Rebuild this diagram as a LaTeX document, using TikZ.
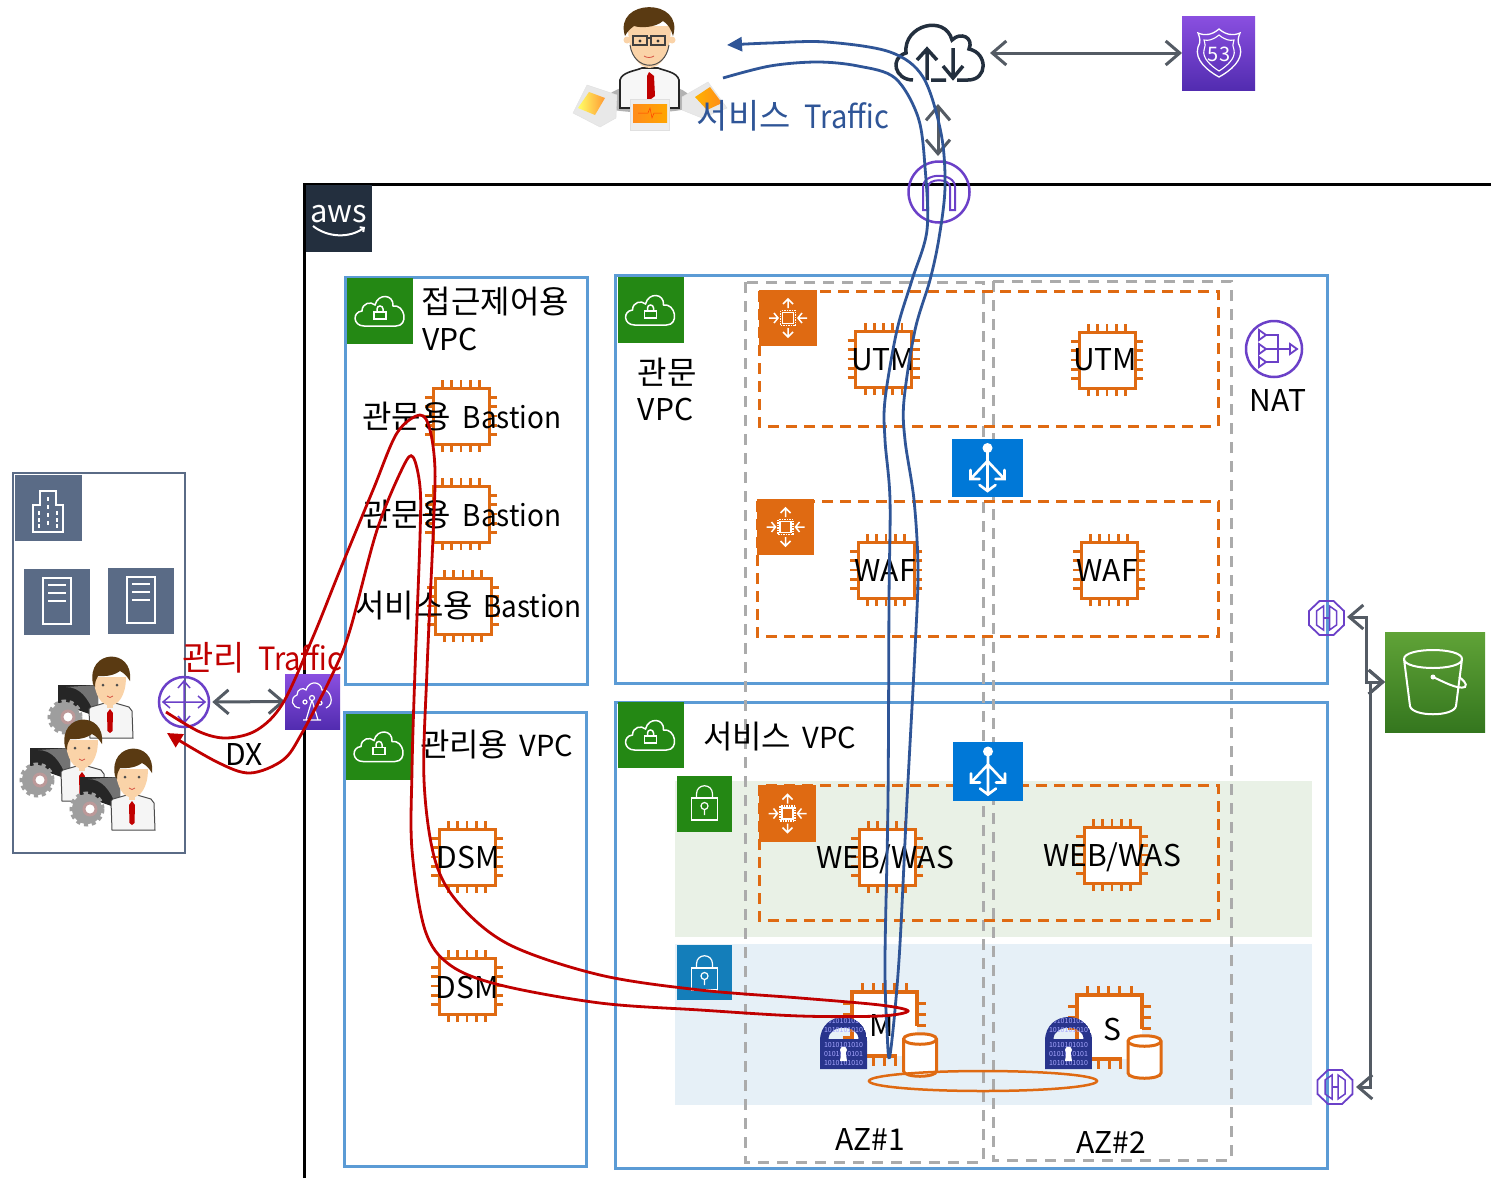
\documentclass[tikz,border=0pt]{standalone}
\usepackage{fontspec}
\setmainfont{Noto Sans CJK KR}
\usetikzlibrary{arrows.meta}
\definecolor{awsor}{HTML}{DF6A12}
\definecolor{pur}{HTML}{6B40C8}
\definecolor{vpcb}{HTML}{5B9BD5}
\definecolor{grn}{HTML}{248814}
\definecolor{gar}{HTML}{545B64}
\definecolor{slateb}{HTML}{5A6B86}
\definecolor{rd}{HTML}{C00000}
\definecolor{bl}{HTML}{2F5597}
\definecolor{navy}{HTML}{232F3E}
\definecolor{lockb}{HTML}{28348C}
\definecolor{hair}{HTML}{5A3A12}
\definecolor{skin}{HTML}{FAD3A8}
\definecolor{subg}{HTML}{E9F1E6}
\definecolor{subb}{HTML}{E6F0F7}
\definecolor{lockblue}{HTML}{147EBA}
\definecolor{elbblue}{HTML}{0078D7}
\definecolor{purhi}{HTML}{8A4FE0}
\definecolor{purlo}{HTML}{522CB0}
\definecolor{s3hi}{HTML}{60A337}
\definecolor{s3lo}{HTML}{34761E}
\newcommand{\kf}{\fontsize{32}{36}\selectfont}
\newcommand{\lf}{\fontsize{30}{36}\selectfont}
\newcommand{\vf}{\fontsize{29}{36}\selectfont}
\newcommand{\nar}[1]{\scalebox{.93}[1]{#1}}
\tikzset{
  lbl/.style={font=\fontsize{30}{36}\selectfont,inner sep=0pt,text=black},
  vpcbox/.style={draw=vpcb,line width=3pt},
  squareicon/.style={inner sep=0pt,outer sep=0pt,draw=none},
  gline/.style={draw=white,line width=1.5pt,fill=none},
  azbox/.style={draw=black!33,line width=3pt,dash pattern=on 11pt off 8pt},
  asgbox/.style={draw=awsor,line width=3pt,dash pattern=on 11pt off 7pt},
  gray arrow/.style={draw=gar,line width=3pt,{Straight Barb[length=14pt,width=24pt,line width=3pt]}-{Straight Barb[length=14pt,width=24pt,line width=3pt]}},
  chip/.pic={
    \foreach \d in {-18.4,-9.2,0,9.2,18.4}{
      \draw[awsor,line width=2.8pt] (\d,-36)--(\d,-28) (\d,36)--(\d,28) (-36,\d)--(-28,\d) (36,\d)--(28,\d);}
    \draw[awsor,line width=3pt,fill=white] (-28,-28) rectangle (28,28);
  },
  vpcicon/.pic={
    \draw[gline] (-16,15) .. controls (-27,15) and (-28,1) .. (-18,0) .. controls (-18,-8) and (-9,-10) .. (-5,-6) .. controls (-2,-18) and (14,-17) .. (13,-5) .. controls (25,-7) and (29,15) .. (16,15) -- cycle;
    \draw[gline] (-6,1) rectangle (6,8);
    \draw[gline] (-3,1) -- (-3,-2) .. controls (-3,-6) and (3,-6) .. (3,-2) -- (3,1);
  },
  lockicon/.pic={
    \draw[gline,line width=1.2pt] (-13,-8) rectangle (13,14);
    \draw[gline,line width=1.2pt] (-8,-8) -- (-8,-12) .. controls (-8,-23) and (8,-23) .. (8,-12) -- (8,-8);
    \draw[gline,line width=1.2pt] (0,0) circle (3.5) (0,3.5)--(0,9);
  },
  asgicon/.pic={
    \draw[white,line width=1.5pt,densely dotted] (-7.5,-7.5) rectangle (7.5,7.5);
    \draw[white,line width=1.2pt] (-5.5,-5.5) rectangle (5.5,5.5);
    \draw[white,line width=1.5pt] (-19,0)--(-10,0) (-14,-5)--(-10,0)--(-14,5)
      (19,0)--(10,0) (14,-5)--(10,0)--(14,5)
      (0,-10)--(0,-19) (-5,-14)--(0,-19)--(5,-14)
      (0,10)--(0,19) (-5,14)--(0,19)--(5,14);
  },
  elbicon/.pic={
    \fill[white] (0,-20) circle (5);
    \draw[white,line width=2.6pt,line cap=round] (0,-18)--(0,22) (0,-7)--(-16,10) (0,-7)--(16,10)
      (-8,17)--(0,23)--(8,17) (-17,2)--(-17,11)--(-8,11) (17,2)--(17,11)--(8,11);
  },
  servericon/.pic={
    \draw[white,line width=1.5pt] (-14,-23) rectangle (14,23);
    \draw[white,line width=1.3pt] (-9,-16)--(9,-16) (-9,-8)--(9,-8) (-9,0)--(9,0);
  },
  buildicon/.pic={
    \draw[white,line width=1.5pt] (-15,24)--(-15,-3)--(-8,-3)--(-8,-17)--(8,-17)--(8,-3)--(15,-3)--(15,24)--cycle;
    \foreach \yy in {-11,-3,5,13}{\draw[white,line width=1.5pt] (0,\yy)--(0,\yy+4);}
    \foreach \xx in {-9,9}{\foreach \yy in {3,10,16}{\draw[white,line width=1.5pt] (\xx,\yy)--(\xx,\yy+4);}}
  },
  dblock/.pic={
    \begin{scope}
      \path[clip] (-23.5,52)--(-23.5,24) .. controls (-23.5,-8) and (23.5,-8) .. (23.5,24) -- (23.5,52) -- cycle;
      \fill[lockb,even odd rule] (-23.5,52)--(-23.5,24) .. controls (-23.5,-8) and (23.5,-8) .. (23.5,24) -- (23.5,52) -- cycle
        (-15,22) .. controls (-15,7) and (15,7) .. (15,22) -- cycle;
      \foreach \yy/\tt in {4/01010101,13/1010101010,28/1010101010,37/0101010101,46/1010101010}{
        \node[inner sep=0pt,text=blue!35!white,font=\fontsize{7}{8}\selectfont] at (0,\yy) {\tt};}
    \end{scope}
    \fill[white] (0,33) circle (3.5) (-2,34)--(2,34)--(3.5,44)--(-3.5,44)--cycle;
  },
  cyl/.pic={
    \draw[awsor,line width=3pt,fill=white] (-16.5,-16) -- (-16.5,16) .. controls (-16.5,23) and (16.5,23) .. (16.5,16) -- (16.5,-16) .. controls (16.5,-23) and (-16.5,-23) .. (-16.5,-16) -- cycle;
    \draw[awsor,line width=3pt] (-16.5,-16) .. controls (-16.5,-9) and (16.5,-9) .. (16.5,-16);
  },
  epoct/.pic={
    \draw[pur,line width=1.8pt] (-7,-17)--(7,-17)--(17.5,-7)--(17.5,7)--(7,17)--(-7,17)--(-17.5,7)--(-17.5,-7)--cycle;
    \draw[pur,line width=1.5pt] (-3,-12)--(-3,12)--(-10,7)--(-10,-7)--cycle (3,-12)--(3,12)--(10,7)--(10,-7)--cycle;
    \draw[pur,line width=1.5pt] (-3,0)--(3,0);
  },
  admin/.pic={
    \fill[black!85] (-52,12) -- (-12,12) -- (-12,44) -- (-52,30) -- cycle;
    \fill[black!55] (-44,14) .. controls (-30,14) and (-22,25) .. (-16,40) -- (-12,44)--(-12,12)--cycle;
    \draw[black!38,line width=5pt,dash pattern=on 4pt off 3.5pt] (-45,44) circle (15);
    \fill[black!38] (-45,44) circle (15);
    \draw[rd!45!black!40,line width=3pt,fill=white] (-42,44) circle (6);
    \draw[black!70,line width=1pt,fill=black!4] (-21,36) -- (-19,34) -- (-5,30) -- (5,30) -- (19,34) -- (22,38) -- (23,65) -- (-20,65) -- cycle;
    \fill[rd] (0,36)--(3,40)--(2.5,58)--(0,60)--(-2.5,58)--(-3,40)--cycle;
    \fill[skin] (-16,4) .. controls (-16,42) and (16,42) .. (16,4) -- cycle;
    \fill[skin] (-3,25) rectangle (3,35);
    \fill[hair] (-17,11) .. controls (-24,-24) and (24,-26) .. (20,8) .. controls (17,3) and (14,0) .. (10,-2) .. controls (2,4) and (-8,3) .. (-12,3) .. controls (-14,6) and (-15,9) .. (-15,14) -- cycle;
    \fill[black!70] (-7,12) circle (1.5) (7,12) circle (1.5);
    \draw[rd!60!skin,line width=.7pt] (-3,23) .. controls (-1,25) and (1,25) .. (3,23);
  },
}
\begin{document}
\begin{tikzpicture}[x=1pt,y=-1pt]
\useasboundingbox (0,0) rectangle (1491,1178);
\fill[white] (0,0) rectangle (1491,1178);

% AWS frame
\draw[black,line width=3pt] (304,1178) -- (304,184) -- (1491,184);
\node[squareicon,fill=navy,minimum width=66pt,minimum height=67pt] (awslogo) at (339,218.5) {};
\node[inner sep=0pt,text=white,font=\fontsize{31}{32}\selectfont,anchor=base] (awstxt) at (338.5,222) {aws};
\draw[white,line width=2pt,-{Straight Barb[length=3pt,width=6pt]}] (313,226) .. controls (328,238) and (350,238) .. (365,227);

% VPC boxes
\draw[vpcbox] (345,277) rectangle (587,684);
\draw[vpcbox] (344,712) rectangle (586,1166);
\draw[vpcbox] (615,275) rectangle (1327,683);
\draw[vpcbox] (615,702) rectangle (1327,1168);
\node[squareicon,fill=grn,minimum size=66pt] (v1) at (380,311) {};
\pic at (380,311) {vpcicon};
\node[squareicon,fill=grn,minimum size=66pt] (v2) at (379,746.5) {};
\pic at (379,746.5) {vpcicon};
\node[squareicon,fill=grn,minimum size=66pt] (v3) at (650.5,310) {};
\pic at (650.5,310) {vpcicon};
\node[squareicon,fill=grn,minimum size=66pt] (v4) at (650.5,735) {};
\pic at (650.5,735) {vpcicon};

% subnets
\fill[subg] (675,781) rectangle (1312,937);
\fill[subb] (675,944) rectangle (1312,1105);
\node[squareicon,fill=grn,minimum width=55pt,minimum height=56pt] (s1) at (704.5,804) {};
\pic at (704.5,806) {lockicon};
\node[squareicon,fill=lockblue,minimum width=55pt,minimum height=55pt] (s2) at (704.5,972.5) {};
\pic at (704.5,976) {lockicon};

% AZ boxes
\draw[azbox] (745,282) rectangle (983,1162);
\draw[azbox] (993,281) rectangle (1231,1160);

% ASG
\draw[asgbox] (759,291) rectangle (1218,426);
\draw[asgbox] (757,501) rectangle (1218,636);
\draw[asgbox] (759,785) rectangle (1218,920);
\node[squareicon,fill=awsor,minimum width=58pt,minimum height=56pt] (a1) at (788,318) {};
\pic at (788,318) {asgicon};
\node[squareicon,fill=awsor,minimum width=57pt,minimum height=56pt] (a2) at (785.5,527) {};
\pic at (785.5,527) {asgicon};
\node[squareicon,fill=awsor,minimum width=57pt,minimum height=57pt] (a3) at (787.5,813.5) {};
\pic at (787.5,813.5) {asgicon};

% ELB
\node[squareicon,fill=elbblue,minimum width=71pt,minimum height=58pt] (e1) at (987.5,468) {};
\pic at (987.5,468) {elbicon};
\node[squareicon,fill=elbblue,minimum width=70pt,minimum height=59pt] (e2) at (988,771.5) {};
\pic at (988,771.5) {elbicon};

% chips
\pic at (883.5,359) {chip};
\pic at (1107,360) {chip};
\pic at (886,570) {chip};
\pic at (1109,570) {chip};
\pic at (887,857) {chip};
\pic at (1112,855) {chip};
\pic at (461,416) {chip};
\pic at (461,514) {chip};
\pic at (463,606) {chip};
\pic at (467,857) {chip};
\pic at (467,986) {chip};

% RDS M
\foreach \ox/\oy in {0/0,225/3}{
 \begin{scope}[shift={(\ox,\oy)}]
  \fill[white] (852,992) rectangle (917,1056);
  \foreach \d in {862,873,883,894,906}{\draw[awsor,line width=3pt] (\d,983)--(\d,992);}
  \foreach \d in {1003,1014,1025}{\draw[awsor,line width=3pt] (917,\d)--(926,\d);}
  \foreach \d in {1003,1014,1025,1037}{\draw[awsor,line width=3pt] (843,\d)--(852,\d);}
  \foreach \d in {873,884,895}{\draw[awsor,line width=3pt] (\d,1056)--(\d,1066);}
  \draw[awsor,line width=3.2pt] (897,1056) -- (852,1056) -- (852,992) -- (917,992) -- (917,1026);
 \end{scope}}
\pic at (843.5,1017) {dblock};
\pic at (1068.5,1017) {dblock};
\pic at (920,1055) {cyl};
\pic at (1144.5,1057) {cyl};
\draw[awsor,line width=2.5pt] (983,1081) ellipse (114 and 10);

% on-prem
\draw[draw=slateb,line width=2.5pt] (13,473) rectangle (185,853);
\node[squareicon,fill=slateb,minimum width=67pt,minimum height=66pt] (bld) at (48.5,508) {};
\pic at (48,508) {buildicon};
\node[squareicon,fill=slateb,minimum size=66pt] (sv1) at (57,602) {};
\pic at (57,601) {servericon};
\node[squareicon,fill=slateb,minimum size=66pt] (sv2) at (141,600.5) {};
\pic at (141,600) {servericon};
\pic at (110,673) {admin};
\pic at (82,736) {admin};
\pic at (132,765) {admin};

% router
\node[circle,draw=pur,line width=2.5pt,minimum size=50pt,inner sep=0pt] (rt) at (184,702) {};
\draw[pur,line width=1.5pt] (163,702)--(205,702) (184,681)--(184,723)
  (170,696)--(163,702)--(170,708) (198,696)--(205,702)--(198,708)
  (178,688)--(184,681)--(190,688) (178,716)--(184,723)--(190,716);

% DX
\node[squareicon,top color=purhi,bottom color=purlo,minimum width=55pt,minimum height=55pt] (dx) at (312.5,701.5) {};
\draw[gline,line width=1.2pt] (300,708) .. controls (292,708) and (289,698) .. (297,695) .. controls (297,689) and (303,687) .. (306,690) .. controls (309,680) and (321,681) .. (322,690) .. controls (330,688) and (336,704) .. (326,708);
\draw[gline,line width=1.2pt] (312,700)--(306,720) (312,700)--(318,720) (303,720)--(321,720) (312,698) circle (2.5) (305,702) circle (2) (320,703) circle (2);

% top group
\node[inner sep=0pt] (cloudc) at (940,53) {};
\draw[navy,line width=3.5pt] (913,80) .. controls (895,80) and (889,58) .. (906,53) .. controls (903,25) and (945,14) .. (952,40) .. controls (961,31) and (974,38) .. (969,49) .. controls (988,53) and (988,80) .. (968,80) -- (957,80) (931,80)--(946,80);
\draw[navy,line width=3.5pt] (927,80)--(927,49) (917,60)--(927,49)--(937,60) (953,48)--(953,78) (943,66)--(953,78)--(963,66);
\coordinate (cloudr) at (990,53);
\node[squareicon,top color=purhi,bottom color=purlo,minimum width=73pt,minimum height=74pt] (r53) at (1218.5,53) {};
\draw[gline,line width=1.3pt] (1219,29) .. controls (1212,35) and (1205,36) .. (1198,33) .. controls (1200,38) and (1201,42) .. (1198,47) .. controls (1194,60) and (1208,71) .. (1219,77) .. controls (1230,71) and (1244,60) .. (1240,47) .. controls (1237,42) and (1238,38) .. (1240,33) .. controls (1233,36) and (1226,35) .. (1219,29) -- cycle;
\draw[gline,line width=1.1pt] (1219,35) .. controls (1213,40) and (1208,41) .. (1204,40) .. controls (1205,44) and (1206,47) .. (1204,50) .. controls (1202,58) and (1211,66) .. (1219,71) .. controls (1227,66) and (1236,58) .. (1234,50) .. controls (1232,47) and (1233,44) .. (1234,40) .. controls (1230,41) and (1225,40) .. (1219,35) -- cycle;
\node[inner sep=0pt,text=white,font=\fontsize{20}{22}\selectfont] (n53) at (1219,54) {53};
\node[circle,draw=pur,line width=2.5pt,minimum size=61pt,inner sep=0pt] (igw) at (939,192) {};
\draw[pur,line width=2pt] (923,210)--(923,187) .. controls (923,172) and (955,172) .. (955,187) -- (955,210) -- (950,210) -- (950,187) .. controls (950,178) and (928,178) .. (928,187) -- (928,210) -- cycle;
\coordinate (vtop) at (938,104);
\coordinate (vbot) at (938,156);

% NAT
\node[circle,draw=pur,line width=2.5pt,minimum size=56pt,inner sep=0pt] (nat) at (1274,349) {};
\draw[pur,line width=2pt] (1265,349)--(1290,349) (1265,335)--(1278,335)--(1278,362)--(1265,362);
\draw[pur,line width=1.8pt] (1259,330)--(1266,335)--(1259,340)--cycle (1259,344)--(1266,349)--(1259,354)--cycle (1259,357)--(1266,362)--(1259,367)--cycle (1290,344)--(1297,349)--(1290,354)--cycle;

% S3, endpoints
\node[squareicon,top color=s3hi,bottom color=s3lo,minimum size=100pt] (s3) at (1435,682) {};
\draw[gline,line width=2pt] (1404,659) .. controls (1404,647) and (1462,647) .. (1462,659) .. controls (1462,671) and (1404,671) .. (1404,659) -- (1410,706) .. controls (1412,717) and (1454,717) .. (1456,706) -- (1462,659);
\fill[white] (1433,677) circle (2.5);
\draw[gline,line width=2pt] (1433,677) .. controls (1442,681) and (1458,690) .. (1465,687) .. controls (1468,684) and (1462,679) .. (1459,677);
\pic at (1326.5,618) {epoct};
\pic at (1335,1087) {epoct};
\coordinate (ep1) at (1347,617);
\coordinate (ep2) at (1356,1087);
\coordinate (s3in) at (1385,682);
\coordinate (s3a) at (1366,617);
\coordinate (s3b) at (1366,682);
\coordinate (s3c) at (1370,1087);
\coordinate (s3d) at (1370,682);

% Top user
\fill[black!30] (605,98) .. controls (620,80) and (675,78) .. (690,96) -- (690,108) .. controls (670,114) and (625,114) .. (605,108) -- cycle;
\draw[black!85,line width=1.6pt,fill=black!3] (620,108)--(620,80) .. controls (622,72) and (635,71) .. (642,68) -- (658,68) .. controls (665,71) and (677,72) .. (679,80) -- (679,108) -- cycle;
\fill[rd] (649,72)--(654,76)--(655,96)--(651,99)--(647,99)--(647,76)--cycle;
\fill[skin] (627,40) circle (3.5) (672,40) circle (3.5);
\fill[skin] (628,26) .. controls (628,82) and (671,82) .. (671,26) -- cycle;
\draw[black!70,line width=1pt] (630,45) .. controls (634,72) and (665,72) .. (669,45);
\fill[hair] (625,36) .. controls (613,-2) and (685,-3) .. (673,36) .. controls (671,29) and (668,24) .. (663,21) .. controls (655,28) and (640,28) .. (634,26) .. controls (630,29) and (627,32) .. (625,36) -- cycle;
\draw[black!75,line width=1.6pt] (633,36) rectangle (647,45) (651,36) rectangle (665,45) (647,38)--(651,38);
\fill[black!80] (640,41) circle (1.6) (658,41) circle (1.6);
\draw[rd!60!skin,line width=.8pt] (644,56) .. controls (647,58) and (651,58) .. (654,56);
\filldraw[draw=black!12,fill=black!9] (573,113)--(587,85)--(617,95)--(616,118)--(600,127)--cycle;
\shade[left color=yellow!60,right color=orange!80] (578,108)--(589,92)--(605,98)--(595,115)--cycle;
\filldraw[draw=black!12,fill=black!7] (630,99) rectangle (669,130);
\shade[left color=orange!90,right color=orange!70!yellow] (633,104) rectangle (667,122);
\draw[orange!50!red,line width=.5pt] (638,113)--(648,113)--(650,108)--(652,118)--(654,113)--(662,113);
\filldraw[draw=black!12,fill=black!9] (682,97)--(708,82)--(727,108)--(702,118)--(682,110)--cycle;
\shade[left color=orange!60!yellow,right color=orange!90] (695,97)--(710,87)--(722,103)--(707,110)--cycle;
\coordinate (usr1) at (723,78);
\coordinate (usr2) at (727,45);

% labels
\node[lbl] (t1) at (495.5,302) {\kf 접근제어용};
\node[lbl,anchor=west] (t2) at (422,339) {VPC};
\node[lbl] (t3) at (462,416) {\kf 관문용\hspace{12pt}\lf\nar{Bastion}};
\node[lbl] (t4) at (462,514) {\kf 관문용\hspace{12pt}\lf\nar{Bastion}};
\node[lbl] (t5) at (468.5,606) {\kf 서비스용\hspace{10pt}\lf\nar{Bastion}};
\node[lbl] (t6) at (496.5,745) {\kf 관리용\hspace{11pt}\vf VPC};
\node[lbl] (t7) at (468,857) {DSM};
\node[lbl] (t8) at (467,987) {DSM};
\node[lbl] (t9) at (667,372) {\kf 관문};
\node[lbl] (t10) at (665.5,409) {VPC};
\node[lbl] (t11) at (779.5,737) {\kf 서비스\hspace{11pt}\vf VPC};
\node[lbl] (t12) at (883,360) {UTM};
\node[lbl] (t13) at (1105,360) {UTM};
\node[lbl] (t14) at (885,570) {WAF};
\node[lbl] (t15) at (1107,570) {WAF};
\node[lbl] (t16) at (885,859) {WEB/WAS};
\node[lbl] (t17) at (1112,857) {WEB/WAS};
\node[lbl] (t18) at (882,1025) {M};
\node[lbl] (t19) at (1112,1029) {S};
\node[lbl] (t20) at (870,1139) {AZ\#1};
\node[lbl] (t21) at (1111,1142) {AZ\#2};
\node[lbl] (t22) at (1278,400) {NAT};
\node[lbl] (t23) at (244,754) {DX};
\node[lbl,text=rd] (t24) at (262.5,658) {\fontsize{34}{36}\selectfont 관리\hspace{13pt}\fontsize{32}{36}\selectfont\scalebox{.91}[1]{Traffic}};
\node[lbl,text=bl] (t25) at (793,116) {\fontsize{34}{36}\selectfont 서비스\hspace{14pt}\fontsize{32}{36}\selectfont\scalebox{.91}[1]{Traffic}};

% gray connectors
\draw[gray arrow] (cloudr) -- (r53.west);
\draw[gray arrow] (vtop) -- (vbot);
\draw[gray arrow] (rt.east) ++(2,0) -- (dx.west);
\draw[gray arrow] (ep1) -- (s3a) -- (s3b) -- (s3in);
\draw[gray arrow] (ep2) -- (s3c) -- (s3d) -- (s3in);

% blue traffic
\draw[bl,line width=2.8pt,-{Triangle[length=15pt,width=14pt]}] plot[smooth,tension=.55] coordinates {
 (usr1) (770,66) (817,62) (858,66) (895,78) (918,117) (925,167) (927,230) (912,280) (897,330) (885,400) (885,440) (890,500) (889,600) (888,800) (885,960) (887,1030) (890,1055)
 (899,960) (907,800) (915,650) (918,570) (914,500) (905,440) (904,400) (915,330) (930,280) (939,238) (945,187) (941,133) (923,77) (890,52) (826,42) (770,43) (usr2)};

% red traffic
\coordinate (rtout) at (166,712);
\coordinate (rtin) at (167,733);
\draw[rd,line width=2.8pt,-{Triangle[length=15pt,width=15pt]}] plot[smooth,tension=.55] coordinates {
 (rtout) (200,732) (227,738) (257,730) (283,703) (313,637) (340,570) (373,490) (397,433) (420,415) (430,430) (435,470) (433,537) (427,670) (424,780) (435,860) (460,905) (510,945) (600,975) (700,990) (800,998) (880,1005) (908,1011) (880,1016) (800,1016) (700,1010) (600,1003) (500,985) (450,965) (425,930) (412,850) (412,770) (415,670) (420,537) (420,487) (413,457) (403,467) (377,530) (350,630) (333,673) (302,733) (283,760) (250,773) (217,762) (rtin)};
\end{tikzpicture}
\end{document}
